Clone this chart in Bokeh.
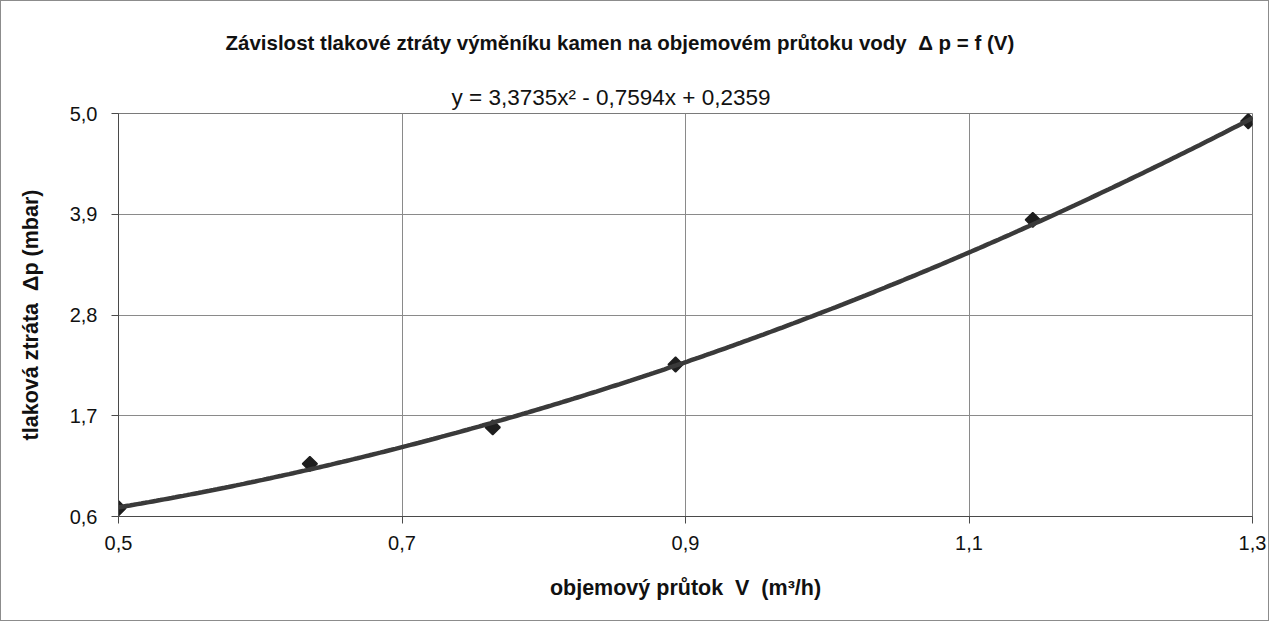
import numpy as np
from bokeh.plotting import figure
from bokeh.models import FixedTicker, Title, CustomJSTickFormatter
from bokeh.embed import file_html
from bokeh.resources import INLINE

# ---- data ----
flow = [0.500, 0.635, 0.764, 0.893, 1.145, 1.297]          # V (m3/h)
dp = [0.690, 1.175, 1.573, 2.259, 3.839, 4.915]            # Δp (mbar)
trend_coef = [3.3735, -0.7594, 0.2359]                      # shown polynomial trend line
x_ticks = [0.5, 0.7, 0.9, 1.1, 1.3]
x_tick_labels = ["0,5", "0,7", "0,9", "1,1", "1,3"]
y_ticks = [0.6, 1.7, 2.8, 3.9, 5.0]
y_tick_labels = ["0,6", "1,7", "2,8", "3,9", "5,0"]
NB = "\u00a0"
title_text = "Závislost tlakové ztráty výměníku kamen na objemovém průtoku vody " + NB + "Δ p = f (V)"
eq_text = "y = 3,3735x² - 0,7594x + 0,2359"
x_label = "objemový průtok " + NB + "V " + NB + "(m³/h)"
y_label = "tlaková ztráta " + NB + "Δp (mbar)"

FONT = "Liberation Sans"

p = figure(width=1269, height=621, x_range=(x_ticks[0], x_ticks[-1]),
           y_range=(y_ticks[0], y_ticks[-1]), output_backend="svg",
           toolbar_location=None, min_border_left=117, min_border_right=18,
           min_border_top=112, min_border_bottom=106)
p.styles = {"border": "1px solid #8c8c8c"}
p.background_fill_color = "white"
p.border_fill_color = "white"
p.outline_line_color = "#7a7a7a"
p.outline_line_width = 1

xt = FixedTicker(ticks=x_ticks)
yt = FixedTicker(ticks=y_ticks)
p.xaxis.ticker = xt
p.yaxis.ticker = yt
p.xgrid.ticker = xt
p.ygrid.ticker = yt
code = "const i = tv.findIndex(t => Math.abs(t - tick) < 1e-9); return i >= 0 ? lab[i] : '';"
p.xaxis.formatter = CustomJSTickFormatter(args=dict(tv=x_ticks, lab=x_tick_labels), code=code)
p.yaxis.formatter = CustomJSTickFormatter(args=dict(tv=y_ticks, lab=y_tick_labels), code=code)

for ax in (p.xaxis, p.yaxis):
    ax.axis_line_color = "#4a4a4a"
    ax.axis_line_width = 1
    ax.major_tick_line_color = "#4a4a4a"
    ax.major_tick_out = 7
    ax.major_tick_in = 0
    ax.minor_tick_line_color = None
    ax.major_label_text_font = FONT
    ax.major_label_text_font_size = "20px"
    ax.major_label_text_color = "#111111"
    ax.axis_label_text_font = FONT
    ax.axis_label_text_font_style = "bold"
    ax.axis_label_text_font_size = "21.5px"
    ax.axis_label_text_color = "#111111"

p.xaxis.axis_label = x_label
p.yaxis.axis_label = y_label
p.xaxis.major_label_standoff = 12
p.yaxis.major_label_standoff = 14
p.xaxis.axis_label_standoff = 23
p.yaxis.axis_label_standoff = 24

for g in (p.xgrid, p.ygrid):
    g.grid_line_color = "#8a8a8a"
    g.grid_line_width = 1

# trend line from the shown coefficients
xs = np.linspace(x_ticks[0], x_ticks[-1], 300)
ys = np.polyval(trend_coef, xs)

p.scatter(flow, dp, marker="square", angle=np.pi / 4, size=10.5,
          fill_color="#1e1e1e", line_color="#1e1e1e", line_width=1.5)
p.line(xs, ys, line_color="#3a3a3a", line_width=4.5)

# equation (nearest to the plot) then main title above it
p.add_layout(Title(text=eq_text, align="left", offset=333, standoff=7,
                   text_font=FONT, text_font_style="normal",
                   text_font_size="22.5px", text_color="#111111"), "above")
p.add_layout(Title(text=title_text, align="left", offset=107, standoff=51,
                   text_font=FONT, text_font_style="bold",
                   text_font_size="20.5px", text_color="#111111"), "above")

open("out.html", "w").write(file_html(p, INLINE))
